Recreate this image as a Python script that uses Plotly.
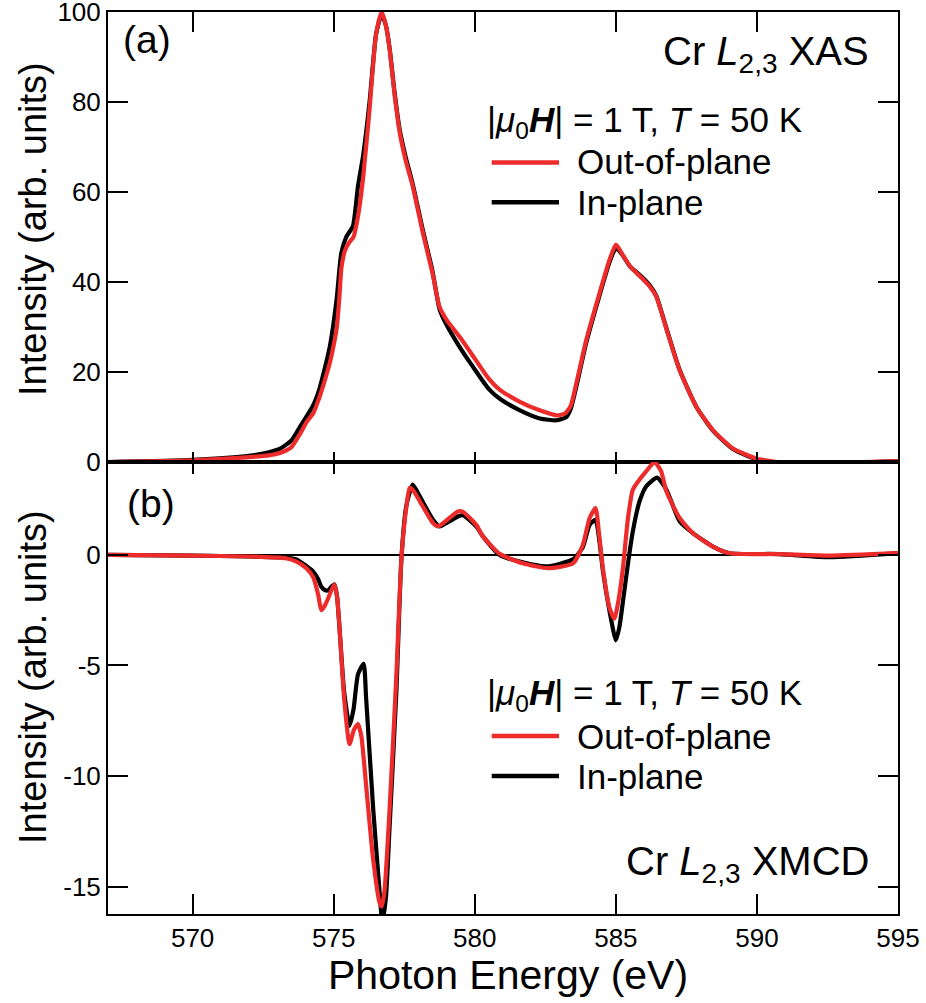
import plotly.graph_objects as go

# ---------------- data ----------------
# Cr L2,3 XAS, out-of-plane (red)
xas_out_e = [567.0, 569.0, 570.0, 571.0, 572.0, 572.7, 573.1, 573.35, 573.5, 573.8, 574.05, 574.27,
             574.5, 574.7, 574.86, 575.0, 575.1, 575.2, 575.27, 575.4, 575.55, 575.7, 575.86, 576.04,
             576.27, 576.5, 576.7, 576.85, 576.98, 577.15, 577.34, 577.55, 577.8, 578.16, 578.5,
             578.75, 579.0, 579.5, 580.0, 580.5, 580.9, 581.6, 582.3, 582.9, 583.2, 583.4, 583.6,
             583.95, 584.42, 584.78, 585.0, 585.2, 585.5, 585.9, 586.2, 586.43, 586.8, 587.26,
             587.85, 588.44, 589.15, 589.98, 591.0, 592.6, 595.0]
xas_out_i = [0.0, 0.2, 0.4, 0.7, 1.1, 1.5, 2.0, 2.7, 3.3, 6.2, 9.0, 10.8,
             14.5, 18.5, 22.0, 26.0, 29.5, 36.5, 43.0, 47.0, 48.8, 50.0, 54.6, 63.0,
             78.4, 95.0, 100.0, 97.0, 91.8, 82.0, 73.2, 67.0, 61.3, 50.9, 42.0,
             34.5, 31.6, 27.5, 23.0, 18.5, 16.0, 13.4, 11.5, 10.4, 10.8, 12.5, 17.5,
             27.1, 37.5, 45.0, 48.3, 46.5, 43.5, 41.0, 39.0, 36.8, 29.4, 20.4,
             12.3, 7.1, 3.0, 0.8, -0.2, -0.2, 0.2]

# Cr L2,3 XAS, in-plane (black)
xas_in_e = [567.0, 570.0, 572.0, 572.7, 573.1, 573.5, 573.8, 574.27, 574.5, 574.86, 575.1, 575.27,
            575.45, 575.68, 575.86, 576.04, 576.27, 576.5, 576.7, 576.85, 576.98, 577.15, 577.34,
            577.55, 577.8, 578.16, 578.5, 578.75, 579.0, 579.46, 579.93, 580.5, 580.9, 581.6,
            582.3, 582.9, 583.24, 583.4, 583.6, 583.95, 584.42, 584.78, 585.0, 585.2, 585.5,
            585.9, 586.2, 586.43, 586.8, 587.26, 587.85, 588.44, 589.15, 589.98, 591.0, 592.6, 595.0]
xas_in_i = [0.0, 0.5, 1.4, 2.2, 3.0, 4.8, 7.8, 12.6, 16.4, 25.6, 36.0, 46.5,
            50.1, 52.4, 61.3, 68.0, 80.0, 95.0, 99.5, 97.0, 92.0, 82.5, 73.8,
            67.8, 61.8, 51.5, 42.5, 34.0, 30.5, 25.6, 21.2, 16.2, 14.0, 11.5,
            9.7, 9.3, 10.0, 11.8, 16.8, 26.5, 37.0, 44.5, 47.6, 46.3, 43.5,
            41.3, 39.3, 37.0, 29.6, 20.5, 12.3, 7.0, 2.9, 0.6, -0.3, -0.3, 0.2]

# Cr L2,3 XMCD, out-of-plane (red)
xmcd_out_e = [567.0, 570.0, 572.0, 573.3, 573.68, 574.03, 574.27, 574.45, 574.56, 574.68, 574.8,
              574.95, 575.03, 575.12, 575.2, 575.37, 575.56, 575.72, 575.86, 575.98, 576.15,
              576.4, 576.63, 576.7, 576.8, 576.98, 577.22, 577.4, 577.57, 577.69, 577.8, 578.05,
              578.52, 578.7, 579.1, 579.4, 579.58, 580.05, 580.29, 580.88, 581.7, 582.6, 583.48,
              583.83, 584.07, 584.28, 584.4, 584.54, 584.78, 584.95, 585.1, 585.25, 585.43,
              585.6, 585.84, 586.08, 586.37, 586.6, 586.79, 587.26, 587.73, 588.44, 589.03,
              590.8, 592.57, 595.0]
xmcd_out_v = [0.0, -0.03, -0.07, -0.15, -0.3, -0.6, -1.0, -1.8, -2.5, -2.3, -1.97,
              -1.5, -1.35, -1.9, -3.2, -6.5, -8.56, -7.9, -7.65, -8.2, -10.45,
              -13.8, -15.75, -15.9, -15.2, -11.5, -5.45, -0.15, 2.12, 3.03, 2.95, 2.43,
              1.44, 1.29, 1.67, 1.97, 1.95, 1.36, 0.84, 0.05, -0.38, -0.6, -0.38,
              0.45, 1.67, 2.12, 1.0, -0.6, -2.42, -2.88, -2.0, -0.6, 1.67,
              2.95, 3.41, 3.79, 4.2, 3.8, 2.88, 1.67, 0.99, 0.38, 0.08,
              0.04, -0.03, 0.08]

# Cr L2,3 XMCD, in-plane (black)
xmcd_in_e = [567.0, 570.0, 572.0, 573.3, 573.68, 574.03, 574.27, 574.45, 574.56, 574.7, 574.8,
             574.95, 575.03, 575.12, 575.2, 575.37, 575.56, 575.7, 575.86, 576.06, 576.15,
             576.4, 576.63, 576.72, 576.85, 576.98, 577.22, 577.4, 577.57, 577.8, 578.05,
             578.52, 578.75, 579.1, 579.4, 579.58, 580.05, 580.29, 580.88, 581.59, 582.54,
             583.48, 583.83, 584.07, 584.28, 584.42, 584.54, 584.78, 585.0, 585.12, 585.25,
             585.43, 585.6, 585.84, 586.08, 586.46, 586.79, 587.26, 587.73, 588.44, 589.03,
             590.8, 592.57, 595.0]
xmcd_in_v = [0.0, -0.03, -0.07, -0.12, -0.2, -0.5, -0.75, -1.1, -1.44, -1.6, -1.6,
             -1.4, -1.33, -1.9, -3.2, -6.2, -7.73, -7.0, -5.4, -4.92, -6.5,
             -11.5, -15.3, -16.6, -15.5, -12.3, -6.2, -0.15, 2.2, 3.18, 2.65,
             1.59, 1.29, 1.52, 1.74, 1.8, 1.29, 0.84, 0.0, -0.3, -0.52,
             -0.2, 0.35, 1.36, 1.59, 0.6, -0.7, -2.57, -3.86, -3.3, -2.12,
             -0.38, 1.06, 2.43, 3.11, 3.5, 2.96, 1.52, 0.99, 0.38, 0.08,
             0.04, -0.1, 0.08]

x_ticks = [570, 575, 580, 585, 590, 595]
x_labels = ["570", "575", "580", "585", "590", "595"]
xas_ticks = [0, 20, 40, 60, 80, 100]
xas_labels = ["0", "20", "40", "60", "80", "100"]
xmcd_ticks = [-15, -10, -5, 0]
xmcd_labels = ["-15", "-10", "-5", "0"]

# ---------------- styling ----------------
RED = "#EE2B2B"
BLACK = "#000000"
FONT = "Liberation Sans, Arial, Helvetica, sans-serif"
W, H = 926, 1003
L, R, T, B = 108, 28, 12, 89
PW, PH = W - L - R, H - T - B


def px(xp):
    return (xp - L) / PW


def py(yp):
    return (H - B - yp) / PH


LW = 4.2
smooth = 0.55

fig = go.Figure()
fig.add_trace(go.Scatter(x=xas_in_e, y=xas_in_i, mode="lines", xaxis="x", yaxis="y",
                         line=dict(color=BLACK, width=LW, shape="spline", smoothing=smooth),
                         showlegend=False, hoverinfo="skip"))
fig.add_trace(go.Scatter(x=xas_out_e, y=xas_out_i, mode="lines", xaxis="x3", yaxis="y",
                         line=dict(color=RED, width=LW, shape="spline", smoothing=smooth),
                         showlegend=False, hoverinfo="skip"))
fig.add_trace(go.Scatter(x=xmcd_in_e, y=xmcd_in_v, mode="lines", xaxis="x2", yaxis="y2",
                         line=dict(color=BLACK, width=LW, shape="spline", smoothing=smooth),
                         showlegend=False, hoverinfo="skip"))
fig.add_trace(go.Scatter(x=xmcd_out_e, y=xmcd_out_v, mode="lines", xaxis="x4", yaxis="y2",
                         line=dict(color=RED, width=LW, shape="spline", smoothing=smooth),
                         showlegend=False, hoverinfo="skip"))

split = 0.501
xr = [567, 595]
common_x = dict(range=xr, tickvals=x_ticks, ticktext=x_labels, ticks="inside", tickwidth=2,
                tickcolor=BLACK, showline=True, linewidth=2, linecolor=BLACK, showgrid=False,
                zeroline=False, automargin=False, ticklabeloverflow="allow")
common_y = dict(ticks="inside", ticklen=20, tickwidth=2, tickcolor=BLACK, showline=True,
                linewidth=2, linecolor=BLACK, mirror="ticks", showgrid=False, automargin=False,
                ticklabeloverflow="allow",
                tickfont=dict(family=FONT, size=26, color=BLACK))

fig.update_layout(
    template="none",
    width=W, height=H,
    margin=dict(l=L, r=R, t=T, b=B, pad=0),
    paper_bgcolor="white", plot_bgcolor="white",
    showlegend=False,
    font=dict(family=FONT, color=BLACK),
    xaxis=dict(domain=[0, 1], anchor="y", side="bottom", ticklen=10, showticklabels=False, **common_x),
    xaxis3=dict(overlaying="x", anchor="y", side="top", ticklen=20, showticklabels=False, **common_x),
    xaxis2=dict(domain=[0, 1], anchor="y2", side="bottom", ticklen=20, showticklabels=True,
                tickfont=dict(family=FONT, size=26, color=BLACK), **common_x),
    xaxis4=dict(overlaying="x2", anchor="y2", side="top", ticklen=12, showticklabels=False, **common_x),
    yaxis=dict(domain=[split, 1], anchor="x", range=[0, 100], tickvals=xas_ticks,
               ticktext=xas_labels, zeroline=False, **common_y),
    yaxis2=dict(domain=[0, split], anchor="x2", range=[-16.24, 4.2], tickvals=xmcd_ticks,
                ticktext=xmcd_labels, zeroline=True, zerolinewidth=1.5, zerolinecolor=BLACK,
                **common_y),
)

ann = []


def add_text(text, x, y, size, xanchor="left", yanchor="middle", angle=0):
    ann.append(dict(text=text, x=x, y=y, xref="paper", yref="paper", xanchor=xanchor,
                    yanchor=yanchor, showarrow=False, textangle=angle, borderpad=0,
                    font=dict(family=FONT, size=size, color=BLACK)))


header = "|<i>μ</i><sub>0</sub><b><i>H</i></b>| = 1 T, <i>T</i> = 50 K"

# panel (a)
add_text("(a)", px(122), py(40), 39)
add_text("Cr <i>L</i><sub>2,3</sub> XAS", px(870), py(54), 40, xanchor="right")
add_text(header, px(486), py(122), 35)
add_text("Out-of-plane", px(576), py(162), 35)
add_text("In-plane", px(576), py(202), 35)

# panel (b)
add_text("(b)", px(126), py(503), 39)
add_text(header, px(486), py(695), 35)
add_text("Out-of-plane", px(576), py(736), 35)
add_text("In-plane", px(576), py(776), 35)
add_text("Cr <i>L</i><sub>2,3</sub> XMCD", px(870), py(864), 40, xanchor="right")

# axis titles
add_text("Intensity (arb. units)", px(33), py(229), 38, xanchor="center", angle=-90)
add_text("Intensity (arb. units)", px(33), py(677), 38, xanchor="center", angle=-90)
add_text("Photon Energy (eV)", px(508), py(975), 41, xanchor="center")

fig.update_layout(annotations=ann)

# legend key lines
shapes = []
for yk, col in [(162.5, RED), (202.3, BLACK), (736, RED), (776, BLACK)]:
    shapes.append(dict(type="line", xref="paper", yref="paper", x0=px(491.7), x1=px(559),
                       y0=py(yk), y1=py(yk), line=dict(color=col, width=4.5)))
fig.update_layout(shapes=shapes)

fig.write_html("out.html",
               config={"displayModeBar": False, "staticPlot": True},
               post_script="document.body.style.margin='0';document.body.style.padding='0';"
                           "document.body.style.overflow='hidden';")
